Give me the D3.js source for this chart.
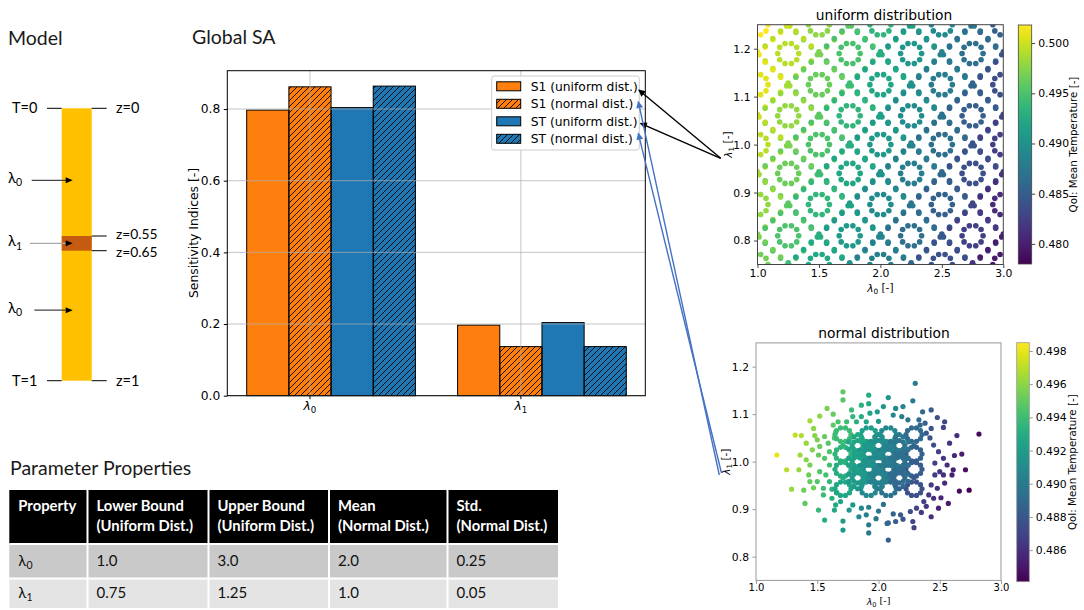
<!DOCTYPE html>
<html>
<head>
<meta charset="utf-8">
<title>Global SA</title>
<script src="https://cdn.jsdelivr.net/npm/d3@7"></script>
<style>
  body { margin: 0; background: #ffffff; }
  svg { display: block; }
</style>
</head>
<body>
<div id="container"></div>
<script>
// ---------------- data ----------------
// model schematic
var zBounds = [0, 0.55, 0.65, 1];
var zLabels = ["z=0", "z=0.55", "z=0.65", "z=1"];
var tBounds = [0, 1];
var tLabels = ["T=0", "T=1"];
var sourceZ = [0.31, 0.6, 0.81];
var sourceSub = ["0", "1", "0"];

// global sensitivity indices
var sensSub = ["0", "1"];
var sensSeries = ["S1 (uniform dist.)", "S1 (normal dist.)", "ST (uniform dist.)", "ST (normal dist.)"];
var s1Uniform = [0.797, 0.197];
var s1Normal = [0.862, 0.137];
var stUniform = [0.804, 0.204];
var stNormal = [0.864, 0.137];
var sensTicks = [0.0, 0.2, 0.4, 0.6, 0.8];

// scatter tick labels
var lambda0Ticks = [1.0, 1.5, 2.0, 2.5, 3.0];
var lambda1Ticks = [0.8, 0.9, 1.0, 1.1, 1.2];
var uniformCbarTicks = [0.480, 0.485, 0.490, 0.495, 0.500];
var normalCbarTicks = [0.486, 0.488, 0.490, 0.492, 0.494, 0.496, 0.498];

// uniform samples: hollow ring clusters
var uRingL0 = [1.0, 1.5, 2.0, 2.5, 3.0, 1.25, 1.75, 2.25, 2.75, 1.0, 1.5, 2.0, 2.5, 3.0, 1.25, 1.75, 2.25, 2.75,
  1.0, 1.5, 2.0, 2.5, 3.0, 1.25, 1.75, 2.25, 2.75, 1.0, 1.5, 2.0, 2.5, 3.0, 1.25, 1.75, 2.25, 2.75, 1.0, 1.5, 2.0, 2.5, 3.0];
var uRingL1 = [1.25, 1.25, 1.25, 1.25, 1.25, 1.19, 1.19, 1.19, 1.19, 1.125, 1.125, 1.125, 1.125, 1.125, 1.06, 1.06, 1.06, 1.06,
  1.0, 1.0, 1.0, 1.0, 1.0, 0.94, 0.94, 0.94, 0.94, 0.875, 0.875, 0.875, 0.875, 0.875, 0.81, 0.81, 0.81, 0.81, 0.75, 0.75, 0.75, 0.75, 0.75];
var uRingQ = [0.5018, 0.4978, 0.4936, 0.4893, 0.4851, 0.4992, 0.4950, 0.4907, 0.4865, 0.5007, 0.4964, 0.4922, 0.4879, 0.4837,
  0.4979, 0.4936, 0.4894, 0.4851, 0.4993, 0.4951, 0.4908, 0.4866, 0.4823, 0.4965, 0.4922, 0.4880, 0.4837,
  0.4979, 0.4937, 0.4894, 0.4852, 0.4809, 0.4951, 0.4909, 0.4866, 0.4824, 0.4966, 0.4923, 0.4881, 0.4838, 0.4796];
// uniform samples: dense blobs
var uBlobL0 = [1.25, 1.75, 2.25, 2.75, 1.0, 1.5, 2.0, 2.5, 3.0, 1.25, 1.75, 2.25, 2.75, 1.0, 1.5, 2.0, 2.5, 3.0,
  1.25, 1.75, 2.25, 2.75, 1.0, 1.5, 2.0, 2.5, 3.0, 1.25, 1.75, 2.25, 2.75, 1.0, 1.5, 2.0, 2.5, 3.0, 1.25, 1.75, 2.25, 2.75];
var uBlobL1 = [1.25, 1.25, 1.25, 1.25, 1.19, 1.19, 1.19, 1.19, 1.19, 1.125, 1.125, 1.125, 1.125, 1.06, 1.06, 1.06, 1.06, 1.06,
  1.0, 1.0, 1.0, 1.0, 0.94, 0.94, 0.94, 0.94, 0.94, 0.875, 0.875, 0.875, 0.875, 0.81, 0.81, 0.81, 0.81, 0.81, 0.75, 0.75, 0.75, 0.75];
var uBlobQ = [0.4999, 0.4957, 0.4914, 0.4872, 0.5014, 0.4971, 0.4929, 0.4886, 0.4844, 0.4986, 0.4943, 0.4900, 0.4858,
  0.5000, 0.4957, 0.4915, 0.4872, 0.4830, 0.4972, 0.4929, 0.4887, 0.4844, 0.4986, 0.4944, 0.4901, 0.4859, 0.4816,
  0.4958, 0.4916, 0.4873, 0.4831, 0.4972, 0.4930, 0.4887, 0.4845, 0.4802, 0.4944, 0.4902, 0.4859, 0.4817];

// normal samples: dense core ring clusters
var nCoreL0 = [1.83, 2.0, 2.17, 1.92, 2.08, 1.83, 2.0, 2.17, 1.92, 2.08, 1.83, 2.0, 2.17];
var nCoreL1 = [1.034, 1.034, 1.034, 1.016, 1.016, 1.0, 1.0, 1.0, 0.984, 0.984, 0.966, 0.966, 0.966];
var nCoreQ = [0.4926, 0.4912, 0.4897, 0.4917, 0.4903, 0.4923, 0.4908, 0.4894, 0.4913, 0.4899, 0.4919, 0.4904, 0.4890];
// normal samples: open rings on the rim of the core
var nRimL0 = [1.71, 1.92, 2.08, 2.29, 1.71, 2.29, 1.71, 2.29, 1.71, 1.92, 2.08, 2.29];
var nRimL1 = [1.057, 1.057, 1.057, 1.057, 1.016, 1.016, 0.984, 0.984, 0.943, 0.943, 0.943, 0.943];
var nRimQ = [0.4939, 0.4921, 0.4908, 0.4890, 0.4935, 0.4885, 0.4931, 0.4882, 0.4926, 0.4909, 0.4895, 0.4877];
// normal samples: core blobs
var nBlobL0 = [1.83, 2.0, 2.17, 1.71, 1.92, 2.08, 2.29, 1.83, 2.0, 2.17, 1.71, 1.92, 2.08, 2.29,
  1.83, 2.0, 2.17, 1.71, 1.92, 2.08, 2.29, 1.83, 2.0, 2.17];
var nBlobL1 = [1.057, 1.057, 1.057, 1.034, 1.034, 1.034, 1.034, 1.016, 1.016, 1.016, 1.0, 1.0, 1.0, 1.0,
  0.984, 0.984, 0.984, 0.966, 0.966, 0.966, 0.966, 0.943, 0.943, 0.943];
var nBlobQ = [0.4929, 0.4914, 0.4900, 0.4936, 0.4919, 0.4905, 0.4887, 0.4924, 0.4910, 0.4895, 0.4933, 0.4915, 0.4901, 0.4883,
  0.4921, 0.4906, 0.4892, 0.4929, 0.4911, 0.4898, 0.4880, 0.4916, 0.4902, 0.4887];
// normal samples: single points around the core
var nPtL0 = [1.17, 1.25, 1.29, 1.32, 1.37, 1.35, 1.36, 1.39, 1.40, 1.41, 1.44, 1.47, 1.52, 1.41, 1.46, 1.44, 1.43, 1.44, 1.58, 1.63,
  1.51, 1.56, 1.62, 1.55, 1.64, 1.71, 1.71, 1.71, 1.71, 1.78, 1.92, 1.92, 1.92, 1.92, 2.08, 2.08, 2.08, 1.50, 1.52, 1.51,
  1.52, 1.50, 1.56, 1.59, 1.60, 1.56, 1.60, 1.57, 1.60, 1.55, 1.63, 1.67, 1.65, 1.69, 1.48, 1.47, 1.65, 1.66, 1.62, 1.64,
  1.86, 1.79, 1.86, 1.93, 1.74, 1.82, 1.90, 2.14, 2.20, 2.04, 2.12, 2.19, 2.24, 2.33, 2.36, 2.28, 2.30, 1.99, 2.00, 2.43,
  2.48, 2.54, 2.53, 2.64, 2.82, 2.58, 2.68, 2.62, 2.71, 2.61, 2.60, 2.54, 2.66, 2.74, 2.57, 2.51, 2.49, 2.43, 2.35, 2.28,
  2.29, 2.20, 2.07, 2.45, 2.49, 2.46, 2.53, 2.56, 2.50, 2.46, 2.53, 2.43, 2.48, 2.41, 2.45, 2.37, 2.39, 2.38, 2.43, 2.39,
  2.34, 2.42, 2.31, 2.26, 2.18, 2.12, 2.14, 1.79, 1.86, 1.92, 1.76, 1.84, 1.90, 2.00, 2.04, 1.98];
var nPtL1 = [1.014, 0.983, 0.942, 1.056, 1.055, 0.983, 1.014, 0.940, 0.912, 1.039, 1.086, 1.070, 1.096, 1.004, 1.025, 0.993, 0.972, 0.958, 1.112, 1.100,
  0.898, 0.877, 0.923, 0.930, 0.898, 1.147, 1.130, 0.875, 0.856, 1.109, 1.140, 1.122, 0.867, 0.850, 1.135, 0.871, 0.835, 1.046, 1.032, 1.014,
  0.979, 0.958, 1.053, 1.039, 1.021, 1.007, 0.993, 0.972, 0.958, 0.944, 1.077, 1.084, 0.909, 0.916, 1.055, 0.945, 1.062, 0.935, 0.942, 1.050,
  1.119, 1.095, 1.095, 1.102, 1.084, 1.084, 1.084, 1.112, 1.116, 1.116, 1.098, 1.095, 1.088, 1.088, 1.105, 1.128, 1.165, 1.105, 1.085, 1.109,
  1.093, 1.084, 1.072, 1.055, 1.058, 1.039, 1.016, 1.013, 0.983, 0.983, 0.972, 0.955, 0.938, 0.940, 0.912, 0.924, 0.902, 0.884, 0.893, 0.874,
  0.861, 0.879, 0.870, 1.035, 1.021, 0.997, 1.007, 0.993, 0.979, 0.972, 0.972, 0.951, 0.944, 0.930, 0.923, 0.916, 0.906, 1.081, 1.070, 1.060,
  1.077, 1.050, 0.902, 0.895, 0.888, 0.890, 0.874, 0.909, 0.902, 0.904, 0.898, 0.884, 0.888, 0.896, 0.910, 0.880];
var nPtQ = [0.4980, 0.4970, 0.4962, 0.4972, 0.4968, 0.4962, 0.4964, 0.4953, 0.4949, 0.4963, 0.4965, 0.4961, 0.4960, 0.4959, 0.4957, 0.4955, 0.4953, 0.4951, 0.4956, 0.4951,
  0.4938, 0.4932, 0.4932, 0.4939, 0.4927, 0.4949, 0.4947, 0.4919, 0.4917, 0.4939, 0.4930, 0.4928, 0.4900, 0.4898, 0.4916, 0.4887, 0.4883, 0.4956, 0.4952, 0.4951,
  0.4946, 0.4946, 0.4951, 0.4947, 0.4945, 0.4946, 0.4941, 0.4942, 0.4937, 0.4940, 0.4948, 0.4945, 0.4928, 0.4925, 0.4958, 0.4953, 0.4945, 0.4930, 0.4934, 0.4944,
  0.4933, 0.4936, 0.4930, 0.4925, 0.4939, 0.4933, 0.4926, 0.4908, 0.4904, 0.4917, 0.4909, 0.4902, 0.4897, 0.4890, 0.4889, 0.4898, 0.4901, 0.4920, 0.4917, 0.4883,
  0.4877, 0.4871, 0.4871, 0.4860, 0.4845, 0.4863, 0.4852, 0.4857, 0.4846, 0.4854, 0.4854, 0.4857, 0.4845, 0.4838, 0.4850, 0.4856, 0.4855, 0.4859, 0.4866, 0.4870,
  0.4868, 0.4878, 0.4888, 0.4874, 0.4869, 0.4869, 0.4864, 0.4859, 0.4863, 0.4866, 0.4860, 0.4866, 0.4861, 0.4865, 0.4861, 0.4867, 0.4864, 0.4885, 0.4879, 0.4881,
  0.4888, 0.4878, 0.4871, 0.4874, 0.4880, 0.4886, 0.4883, 0.4916, 0.4909, 0.4904, 0.4917, 0.4909, 0.4904, 0.4897, 0.4895, 0.4897];

// parameter table
var tableHeader = [["Property"], ["Lower Bound", "(Uniform Dist.)"], ["Upper Bound", "(Uniform Dist.)"], ["Mean", "(Normal Dist.)"], ["Std.", "(Normal Dist.)"]];
var paramSub = ["0", "1"];
var lowerBounds = ["1.0", "0.75"];
var upperBounds = ["3.0", "1.25"];
var means = ["2.0", "1.0"];
var stds = ["0.25", "0.05"];

// ---------------- drawing ----------------
var mplFont = "'DejaVu Sans', sans-serif";
var pptFont = "Lato, 'Open Sans', sans-serif";

var svg = d3.select("div#container").append("svg")
    .attr("width", 1084)
    .attr("height", 610)
    .style("font-family", mplFont);
var defs = svg.append("defs");

// hatch "///"
defs.append("pattern")
    .attr("id", "hatch")
    .attr("patternUnits", "userSpaceOnUse")
    .attr("width", 6).attr("height", 6)
  .append("path")
    .attr("d", "M-1,1 l2,-2 M0,6 l6,-6 M5,7 l2,-2")
    .attr("stroke", "#000").attr("stroke-width", 0.9);

// arrow heads
[["headBlack", "#000"], ["headBlue", "#4472c4"]].forEach(function(m) {
    defs.append("marker")
        .attr("id", m[0])
        .attr("viewBox", "0 0 10 10")
        .attr("refX", 9).attr("refY", 5)
        .attr("markerUnits", "userSpaceOnUse")
        .attr("markerWidth", 8).attr("markerHeight", 7)
        .attr("orient", "auto")
      .append("path").attr("d", "M0,0 L10,5 L0,10 z").attr("fill", m[1]);
});

// lambda with subscript
function addLambda(sel, sub, suffix, italic) {
    sel.append("tspan").text("λ").style("font-style", italic ? "italic" : "normal");
    sel.append("tspan").text(sub).attr("dy", "0.3em").style("font-size", "70%");
    if (suffix) sel.append("tspan").text(suffix).attr("dy", "-0.3em");
}

// panel titles
var titles = svg.append("g").style("font-family", pptFont).style("font-size", "19.5px").attr("fill", "#1a1a1a");
titles.append("text").attr("x", 8).attr("y", 45).text("Model");
titles.append("text").attr("x", 192).attr("y", 44).text("Global SA");
titles.append("text").attr("x", 10).attr("y", 475).text("Parameter Properties");

// ---- model schematic ----
var rodY = d3.scaleLinear().domain(zBounds).range([108.3, 236, 250.7, 380.7]);
var zNudge = [0, -1.5, 1.5, 0];
var model = svg.append("g").style("font-family", pptFont).style("font-size", "14.5px");
model.append("rect")
    .attr("x", 61.7).attr("width", 30)
    .attr("y", rodY(0)).attr("height", rodY(1) - rodY(0))
    .attr("fill", "#ffc000");
model.append("rect")
    .attr("x", 61.7).attr("width", 30)
    .attr("y", rodY(0.55)).attr("height", rodY(0.65) - rodY(0.55))
    .attr("fill", "#c55a11");
model.selectAll("line.z").data(zBounds).enter().append("line")
    .attr("x1", 91.7).attr("x2", 106.7)
    .attr("y1", function(d) { return rodY(d); }).attr("y2", function(d) { return rodY(d); })
    .attr("stroke", "#000").attr("stroke-width", 1);
model.selectAll("text.z").data(zLabels).enter().append("text")
    .attr("x", 116)
    .attr("y", function(d, i) { return rodY(zBounds[i]) + zNudge[i]; })
    .attr("dy", "0.35em")
    .style("font-size", function(d, i) { return (i === 1 || i === 2) ? "13.8px" : "14.5px"; })
    .text(function(d) { return d; });
model.selectAll("line.t").data(tBounds).enter().append("line")
    .attr("x1", 47).attr("x2", 61.7)
    .attr("y1", function(d) { return rodY(d); }).attr("y2", function(d) { return rodY(d); })
    .attr("stroke", "#000").attr("stroke-width", 1);
model.selectAll("text.t").data(tLabels).enter().append("text")
    .attr("x", 12)
    .attr("y", function(d, i) { return rodY(tBounds[i]); })
    .attr("dy", "0.35em")
    .text(function(d) { return d; });
var sourceStart = [31.7, 30, 34.3];
var sourceStroke = ["#444", "#aaa", "#444"];
sourceZ.forEach(function(z, i) {
    model.append("line")
        .attr("x1", sourceStart[i]).attr("x2", 67)
        .attr("y1", rodY(z)).attr("y2", rodY(z))
        .attr("stroke", sourceStroke[i]).attr("stroke-width", 1.2);
    model.append("path")
        .attr("d", "M72.7," + rodY(z) + " l-7,-3 l0,6 z")
        .attr("fill", "#000");
    var t = model.append("text").attr("x", 8).attr("y", rodY(z) + 3).style("font-size", "15px");
    addLambda(t, sourceSub[i], null, false);
});

// ---- global SA bar chart ----
var bx = d3.scaleLinear().domain([-0.392, 1.59]).range([227.3, 645.3]);
var by = d3.scaleLinear().domain([0, 0.907]).range([395.7, 70.7]);
var sensValues = [s1Uniform, s1Normal, stUniform, stNormal];
var seriesFill = ["#ff7f0e", "#ff7f0e", "#1f77b4", "#1f77b4"];
var seriesHatched = [false, true, false, true];
var barWidth = 0.2;

var barRecs = [];
sensValues.forEach(function(vals, s) {
    vals.forEach(function(v, c) { barRecs.push({s: s, c: c, v: v}); });
});
var barLeft = function(d) { return bx(d.c + (d.s - 1) * barWidth - barWidth / 2); };
var barPx = bx(barWidth) - bx(0);

var barG = svg.append("g");
barG.selectAll("rect.fill").data(barRecs).enter().append("rect")
    .attr("x", barLeft).attr("width", barPx)
    .attr("y", function(d) { return by(d.v); })
    .attr("height", function(d) { return by(0) - by(d.v); })
    .attr("fill", function(d) { return seriesFill[d.s]; });
barG.selectAll("rect.hatch").data(barRecs.filter(function(d) { return seriesHatched[d.s]; })).enter().append("rect")
    .attr("x", barLeft).attr("width", barPx)
    .attr("y", function(d) { return by(d.v); })
    .attr("height", function(d) { return by(0) - by(d.v); })
    .attr("fill", "url(#hatch)");
barG.selectAll("rect.edge").data(barRecs).enter().append("rect")
    .attr("x", barLeft).attr("width", barPx)
    .attr("y", function(d) { return by(d.v); })
    .attr("height", function(d) { return by(0) - by(d.v); })
    .attr("fill", "none").attr("stroke", "#000").attr("stroke-width", 1);

// grid over the bars
var grid = svg.append("g").attr("stroke", "#b0b0b0").attr("stroke-width", 0.8).attr("opacity", 0.9);
grid.selectAll("line.h").data(sensTicks).enter().append("line")
    .attr("x1", bx.range()[0]).attr("x2", bx.range()[1])
    .attr("y1", function(d) { return by(d); }).attr("y2", function(d) { return by(d); });
grid.selectAll("line.v").data(sensSub).enter().append("line")
    .attr("x1", function(d, i) { return bx(i); }).attr("x2", function(d, i) { return bx(i); })
    .attr("y1", by.range()[0]).attr("y2", by.range()[1]);

svg.append("rect")
    .attr("x", bx.range()[0]).attr("y", by.range()[1])
    .attr("width", bx.range()[1] - bx.range()[0]).attr("height", by.range()[0] - by.range()[1])
    .attr("fill", "none").attr("stroke", "#000").attr("stroke-width", 1);

var yAxisBar = svg.append("g")
    .attr("transform", "translate(" + bx.range()[0] + ",0)")
    .call(d3.axisLeft(by).tickValues(sensTicks).tickFormat(d3.format(".1f")).tickSize(3.5).tickPadding(3.5));
yAxisBar.select(".domain").remove();
yAxisBar.selectAll("text").style("font-family", mplFont).style("font-size", "12.3px").attr("fill", "#000");
yAxisBar.selectAll("line").attr("stroke", "#000");

var xTicksBar = svg.append("g");
xTicksBar.selectAll("line").data(sensSub).enter().append("line")
    .attr("x1", function(d, i) { return bx(i); }).attr("x2", function(d, i) { return bx(i); })
    .attr("y1", by(0)).attr("y2", by(0) + 3.5).attr("stroke", "#000");
xTicksBar.selectAll("text").data(sensSub).enter().append("text")
    .attr("x", function(d, i) { return bx(i); })
    .attr("y", 410)
    .attr("text-anchor", "middle")
    .style("font-size", "12.3px")
    .each(function(d) { addLambda(d3.select(this), d, null, true); });

svg.append("text")
    .attr("transform", "translate(198,233) rotate(-90)")
    .attr("text-anchor", "middle")
    .style("font-size", "12.4px")
    .text("Sensitivity Indices [-]");

// legend
var legend = svg.append("g");
legend.append("rect")
    .attr("x", 491.7).attr("y", 76).attr("width", 147.6).attr("height", 74)
    .attr("rx", 2.5).attr("fill", "#fff").attr("fill-opacity", 0.85)
    .attr("stroke", "#cccccc").attr("stroke-width", 1);
var legendRowY = function(i) { return 86.3 + i * 17.5; };
sensSeries.forEach(function(name, i) {
    var yy = legendRowY(i);
    legend.append("rect").attr("x", 496.7).attr("y", yy - 4.5).attr("width", 24).attr("height", 9)
        .attr("fill", seriesFill[i]);
    if (seriesHatched[i]) {
        legend.append("rect").attr("x", 496.7).attr("y", yy - 4.5).attr("width", 24).attr("height", 9)
            .attr("fill", "url(#hatch)");
    }
    legend.append("rect").attr("x", 496.7).attr("y", yy - 4.5).attr("width", 24).attr("height", 9)
        .attr("fill", "none").attr("stroke", "#000").attr("stroke-width", 1);
    legend.append("text").attr("x", 530.7).attr("y", yy).attr("dy", "0.35em")
        .style("font-size", "12.3px").text(name);
});

// ---- scatter panels ----
// marker shapes (pixel offsets) for one sample cluster
var ringGlyphU = [[10.5, 0], [8.5, 6.2], [3.2, 10], [-3.2, 10], [-8.5, 6.2], [-10.5, 0], [-8.5, -6.2], [-3.2, -10], [3.2, -10], [8.5, -6.2],
    [23.1, 7.5], [15.4, 15], [7.7, 22.4], [-23.1, 7.5], [-15.4, 15], [-7.7, 22.4],
    [23.1, -7.5], [15.4, -15], [7.7, -22.4], [-23.1, -7.5], [-15.4, -15], [-7.7, -22.4]];
var blobGlyphU = [[-1.6, 1.2], [1.6, 1.2], [0, -1.6]];
var coreGlyphN = [[5.5, 0], [3.9, 3.5], [0, 5], [-3.9, 3.5], [-5.5, 0], [-3.9, -3.5], [0, -5], [3.9, -3.5],
    [9, 3.6], [3.7, 8.6], [-3.7, 8.6], [-9, 3.6], [-9, -3.6], [-3.7, -8.6], [3.7, -8.6], [9, -3.6]];
var rimGlyphN = [[8, 0], [6.5, 4.1], [2.5, 6.7], [-2.5, 6.7], [-6.5, 4.1], [-8, 0], [-6.5, -4.1], [-2.5, -6.7], [2.5, -6.7], [6.5, -4.1]];
var singleGlyph = [[0, 0]];

function scatterPanel(p) {
    var g = svg.append("g");
    var x = d3.scaleLinear().domain([1, 3]).range([p.left, p.right]);
    var y = d3.scaleLinear().domain([0.75, 1.25]).range([p.bottom, p.top]);
    var color = d3.scaleSequential(d3.interpolateViridis).domain(p.qDomain);

    defs.append("clipPath").attr("id", p.id + "-clip").append("rect")
        .attr("x", p.left).attr("y", p.top)
        .attr("width", p.right - p.left).attr("height", p.bottom - p.top);
    var plot = g.append("g").attr("clip-path", "url(#" + p.id + "-clip)");

    p.layers.forEach(function(layer) {
        var recs = layer.l0.map(function(v, i) { return {a: v, b: layer.l1[i], q: layer.q[i]}; });
        plot.append("g").selectAll("g").data(recs).enter().append("g")
            .attr("transform", function(d) { return "translate(" + x(d.a) + "," + y(d.b) + ")"; })
            .attr("fill", function(d) { return color(d.q); })
          .selectAll("circle").data(layer.glyph).enter().append("circle")
            .attr("cx", function(o) { return o[0]; })
            .attr("cy", function(o) { return o[1]; })
            .attr("r", p.dotR);
    });

    g.append("rect")
        .attr("x", p.left).attr("y", p.top)
        .attr("width", p.right - p.left).attr("height", p.bottom - p.top)
        .attr("fill", "none").attr("stroke", p.frame).attr("stroke-width", 1);

    var ax = g.append("g").attr("transform", "translate(0," + p.bottom + ")")
        .call(d3.axisBottom(x).tickValues(lambda0Ticks).tickFormat(d3.format(".1f")).tickSize(3.5).tickPadding(p.xPad));
    var ay = g.append("g").attr("transform", "translate(" + p.left + ",0)")
        .call(d3.axisLeft(y).tickValues(lambda1Ticks).tickFormat(d3.format(".1f")).tickSize(3.5).tickPadding(3.5));
    [ax, ay].forEach(function(a) {
        a.select(".domain").remove();
        a.selectAll("line").attr("stroke", p.frame);
        a.selectAll("text").style("font-family", mplFont).style("font-size", "10.8px").attr("fill", "#000");
    });
    ax.selectAll("text").style("font-size", p.xTickFont);

    g.append("text").attr("x", 884).attr("y", p.titleY).attr("text-anchor", "middle")
        .style("font-size", "13.8px").text(p.title);
    var xl = g.append("text").attr("x", (p.left + p.right) / 2).attr("y", p.xLabelY)
        .attr("text-anchor", "middle").style("font-size", p.xLabelFont);
    addLambda(xl, "0", " [-]", true);
    var yl = g.append("text")
        .attr("transform", "translate(" + p.yLabelX + "," + (p.top + p.bottom) / 2 + ") rotate(-90)")
        .attr("text-anchor", "middle").style("font-size", "10.5px");
    addLambda(yl, "1", " [-]", true);

    // colorbar
    var grad = defs.append("linearGradient").attr("id", p.id + "-grad")
        .attr("x1", 0).attr("y1", 1).attr("x2", 0).attr("y2", 0);
    grad.selectAll("stop").data(d3.range(0, 1.0001, 0.05)).enter().append("stop")
        .attr("offset", function(t) { return t; })
        .attr("stop-color", function(t) { return d3.interpolateViridis(t); });
    var cb = d3.scaleLinear().domain(p.qDomain).range([p.cbBottom, p.cbTop]);
    g.append("rect").attr("x", p.cbLeft).attr("y", p.cbTop)
        .attr("width", p.cbWidth).attr("height", p.cbBottom - p.cbTop)
        .attr("fill", "url(#" + p.id + "-grad)")
        .attr("stroke", p.frame).attr("stroke-width", 0.8);
    var ac = g.append("g").attr("transform", "translate(" + (p.cbLeft + p.cbWidth) + ",0)")
        .call(d3.axisRight(cb).tickValues(p.cbTicks).tickFormat(d3.format(".3f")).tickSize(3.5).tickPadding(3));
    ac.select(".domain").remove();
    ac.selectAll("line").attr("stroke", p.frame);
    ac.selectAll("text").style("font-family", mplFont).style("font-size", "10.8px").attr("fill", "#000");
    g.append("text")
        .attr("transform", "translate(" + p.cbLabelX + "," + (p.cbTop + p.cbBottom) / 2 + ") rotate(-90)")
        .attr("text-anchor", "middle").style("font-size", "10.3px")
        .text("QoI: Mean Temperature [-]");
}

scatterPanel({
    id: "uniform", title: "uniform distribution", titleY: 20,
    left: 757.5, right: 1003.3, top: 24.7, bottom: 264.5,
    qDomain: [0.4780, 0.5018], frame: "#444", dotR: 2.8,
    xPad: 1.5, xTickFont: "10.8px", xLabelY: 292, xLabelFont: "10.5px", yLabelX: 731.5,
    cbLeft: 1018.3, cbWidth: 13.4, cbTop: 25, cbBottom: 264, cbTicks: uniformCbarTicks, cbLabelX: 1077,
    layers: [
        {l0: uRingL0, l1: uRingL1, q: uRingQ, glyph: ringGlyphU},
        {l0: uBlobL0, l1: uBlobL1, q: uBlobQ, glyph: blobGlyphU}
    ]
});
scatterPanel({
    id: "normal", title: "normal distribution", titleY: 338,
    left: 756, right: 1001, top: 342.9, bottom: 580.4,
    qDomain: [0.4841, 0.4985], frame: "#999", dotR: 2.6,
    xPad: 0, xTickFont: "10px", xLabelY: 605.3, xLabelFont: "9.5px", yLabelX: 730,
    cbLeft: 1016.7, cbWidth: 12.6, cbTop: 342.7, cbBottom: 581.7, cbTicks: normalCbarTicks, cbLabelX: 1075.5,
    layers: [
        {l0: nPtL0, l1: nPtL1, q: nPtQ, glyph: singleGlyph},
        {l0: nRimL0, l1: nRimL1, q: nRimQ, glyph: rimGlyphN},
        {l0: nCoreL0, l1: nCoreL1, q: nCoreQ, glyph: coreGlyphN},
        {l0: nBlobL0, l1: nBlobL1, q: nBlobQ, glyph: singleGlyph}
    ]
});

// ---- parameter table ----
var colEdges = [9.3, 87.5, 208.5, 329, 447.5, 558];
var rowTop = [490, 544, 578.5];
var rowBottom = [544, 578.5, 608];
var rowFill = ["#000000", "#c9c9c9", "#e4e4e4"];
var table = svg.append("g").style("font-family", pptFont).style("font-size", "15px");
table.selectAll("rect").data(rowFill).enter().append("rect")
    .attr("x", colEdges[0]).attr("width", colEdges[5] - colEdges[0])
    .attr("y", function(d, i) { return rowTop[i]; })
    .attr("height", function(d, i) { return rowBottom[i] - rowTop[i]; })
    .attr("fill", function(d) { return d; });
table.selectAll("line.col").data(colEdges.slice(1, 5)).enter().append("line")
    .attr("x1", function(d) { return d; }).attr("x2", function(d) { return d; })
    .attr("y1", rowTop[0]).attr("y2", rowBottom[2])
    .attr("stroke", "#fff").attr("stroke-width", 2);
table.selectAll("line.row").data(rowTop.slice(1)).enter().append("line")
    .attr("x1", colEdges[0]).attr("x2", colEdges[5])
    .attr("y1", function(d) { return d; }).attr("y2", function(d) { return d; })
    .attr("stroke", "#fff").attr("stroke-width", 2);
tableHeader.forEach(function(lines, c) {
    lines.forEach(function(line, k) {
        table.append("text").attr("x", colEdges[c] + 9).attr("y", 511 + k * 20)
            .attr("fill", "#fff").style("font-weight", "bold").style("font-size", "14.8px").text(line);
    });
});
var rowBase = [566, 598];
paramSub.forEach(function(sub, r) {
    var t = table.append("text").attr("x", colEdges[0] + 9).attr("y", rowBase[r]).attr("fill", "#111");
    addLambda(t, sub, null, false);
    [lowerBounds, upperBounds, means, stds].forEach(function(col, c) {
        table.append("text").attr("x", colEdges[c + 1] + 9).attr("y", rowBase[r]).attr("fill", "#111").text(col[r]);
    });
});

// ---- annotation arrows to the legend ----
var arrows = svg.append("g").attr("fill", "none").attr("stroke-width", 1.4);
var blackArrows = [[720.7, 158.3, 638.8, 90], [720.7, 158.3, 640.5, 123.3]];
var blueArrows = [[719.3, 475, 638.3, 101.7], [721.5, 473, 638.3, 133.3]];
arrows.selectAll("line.k").data(blackArrows).enter().append("line")
    .attr("x1", function(d) { return d[0]; }).attr("y1", function(d) { return d[1]; })
    .attr("x2", function(d) { return d[2]; }).attr("y2", function(d) { return d[3]; })
    .attr("stroke", "#000").attr("marker-end", "url(#headBlack)");
arrows.selectAll("line.b").data(blueArrows).enter().append("line")
    .attr("x1", function(d) { return d[0]; }).attr("y1", function(d) { return d[1]; })
    .attr("x2", function(d) { return d[2]; }).attr("y2", function(d) { return d[3]; })
    .attr("stroke", "#4472c4").attr("marker-end", "url(#headBlue)");
</script>
</body>
</html>
